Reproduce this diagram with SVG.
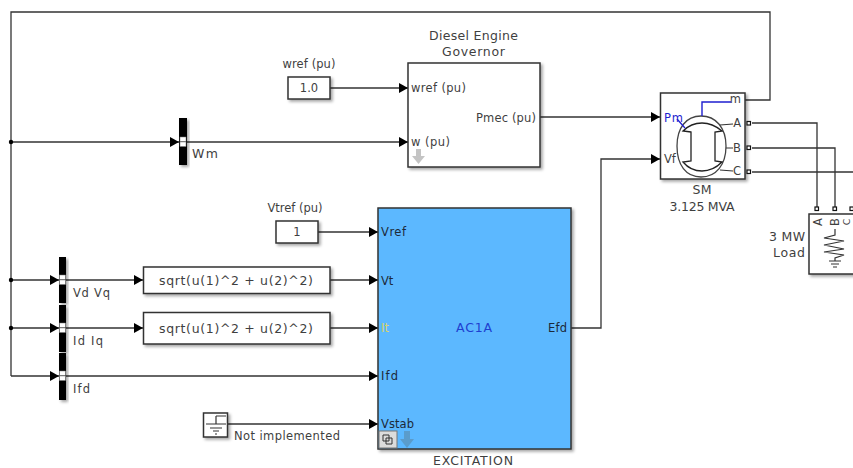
<svg xmlns="http://www.w3.org/2000/svg" width="853" height="468" viewBox="0 0 853 468">
<style>
text{font-family:"DejaVu Sans","Liberation Sans",sans-serif;font-size:11.5px;fill:#3f3f3f}
.l{font-size:12.5px}
.p{fill:#1c2a3a}
.b{fill:#fff;stroke:#333;stroke-width:1.5;filter:url(#s)}
.m{fill:#000;filter:url(#s)}
.w{fill:none;stroke:#333;stroke-width:1.3}
.t{fill:none;stroke:#333;stroke-width:1.3;marker-end:url(#a)}
.g{fill:none;stroke:#333;stroke-width:1.2}
.q{fill:#fff;stroke:#111;stroke-width:1.2}
</style>
<defs>
<filter id="s" x="-20%" y="-20%" width="150%" height="150%"><feDropShadow dx="2" dy="2" stdDeviation="1.5" flood-color="#000" flood-opacity=".35"/></filter>
<marker id="a" markerUnits="userSpaceOnUse" markerWidth="9" markerHeight="10" refX="9" refY="5" orient="auto"><path d="M0 0L9 5L0 10z" fill="#000"/></marker>
<g id="muxmark"><rect x="-3" y="-5" width="6" height="4.500" fill="#fff" stroke="#777" stroke-width=".5"/><rect x="-3" y="0" width="6" height="4.500" fill="#fff" stroke="#777" stroke-width=".5"/></g>
</defs>
<rect width="853" height="468" fill="#fff"/>

<g id="connectors">
<path class="w" d="M745 100H770V12H11V376"/>
<path class="t" d="M11 142H179"/>
<path class="t" d="M187 142H408"/>
<path class="t" d="M330 88H408"/>
<path class="t" d="M540 117H660"/>
<path class="t" d="M571 328H601V159H660"/>
<path class="t" d="M318 232H378"/>
<path class="t" d="M11 280H59"/>
<path class="t" d="M66 280H143"/>
<path class="t" d="M11 328H59"/>
<path class="t" d="M66 328H143"/>
<path class="t" d="M11 376H59"/>
<path class="t" d="M66 376H378"/>
<path class="t" d="M330 280H378"/>
<path class="t" d="M330 328H378"/>
<path class="t" d="M228 424H378"/>
<path class="w" d="M752 123H817V208"/>
<path class="w" d="M752 148H835V208"/>
<path class="w" d="M752 172H853"/>
<circle cx="11" cy="142" r="2.200" fill="#000"/>
<circle cx="11" cy="280" r="2.200" fill="#000"/>
<circle cx="11" cy="328" r="2.200" fill="#000"/>
</g>

<g id="governor">
<rect class="b" x="408" y="63" width="132" height="104"/>
<text class="l" x="473.500" y="40" text-anchor="middle" textLength="89">Diesel Engine</text>
<text class="l" x="473.500" y="56" text-anchor="middle" textLength="63">Governor</text>
<text x="411" y="92" textLength="55">wref (pu)</text>
<text x="411" y="146" textLength="39">w (pu)</text>
<text x="476" y="122" textLength="60">Pmec (pu)</text>
<path d="M416 149h5v7h4l-6.500 8l-6.500-8h4z" fill="#c4c4c4"/>
</g>

<g id="wref">
<rect class="b" x="288" y="77" width="42" height="22"/>
<text x="309" y="92" text-anchor="middle">1.0</text>
<text x="309" y="68" text-anchor="middle" textLength="53">wref (pu)</text>
</g>

<g id="wm-mux">
<rect class="m" x="179" y="118" width="8" height="47"/>
<use href="#muxmark" x="183" y="142"/>
<text class="l" x="192" y="158" textLength="26">Wm</text>
</g>

<g id="sm">
<rect class="b" x="660.500" y="93" width="84.500" height="86"/>
<text x="664" y="122" style="fill:#1f1fd0" textLength="19">Pm</text>
<text x="664" y="163">Vf</text>
<text x="741" y="103" text-anchor="end">m</text>
<text x="741" y="127" text-anchor="end">A</text>
<text x="741" y="152" text-anchor="end">B</text>
<text x="741" y="175" text-anchor="end">C</text>
<path d="M677 146C677 128 686 116 701 116C716 116 726 128 726 146C726 165 716 177 701 177C686 177 677 165 677 146z" fill="none" stroke="#444" stroke-width="1.300"/>
<path d="M691 132L683 131C688 126 694 123 702 123C710 123 716 126 722 131L715 132V161L722 162C716 168 710 171 702 171C694 171 688 168 683 162L691 161z" fill="none" stroke="#222" stroke-width="1.300"/>
<path d="M702 116V102H731" fill="none" stroke="#1f1fd0" stroke-width="1.400"/>
<path d="M677 119L685 128" fill="none" stroke="#1f1fd0" stroke-width="1.300"/>
<path d="M720 125L733 124M726 148H733M720 170L733 171" class="g"/>
<rect class="q" x="747" y="121.500" width="3.500" height="3.500"/>
<rect class="q" x="747" y="146" width="3.500" height="3.500"/>
<rect class="q" x="747" y="170" width="3.500" height="3.500"/>
<text class="l" x="702" y="194" text-anchor="middle" textLength="19">SM</text>
<text class="l" x="702" y="211" text-anchor="middle" textLength="65">3.125 MVA</text>
</g>

<g id="load">
<rect class="b" x="809" y="214" width="60" height="60"/>
<rect class="q" x="815" y="207" width="3.500" height="3.500"/>
<rect class="q" x="833" y="207" width="3.500" height="3.500"/>
<rect class="q" x="850" y="207" width="3.500" height="3.500"/>
<text transform="translate(821.500 222) rotate(-90)" text-anchor="middle">A</text>
<text transform="translate(839 222) rotate(-90)" text-anchor="middle">B</text>
<text transform="translate(850 222) rotate(-90)" text-anchor="middle" style="font-size:9.500px">C</text>
<path class="g" d="M835 229V235L824 238L844 241L824 245L844 249L824 252L844 255L835 258V261M829 261H841M831 264H839M833 267H837"/>
<text class="l" x="805" y="241" text-anchor="end" textLength="36">3 MW</text>
<text class="l" x="805" y="257" text-anchor="end" textLength="32">Load</text>
</g>

<g id="vtref">
<rect class="b" x="276" y="221" width="42" height="22"/>
<text x="297" y="236" text-anchor="middle">1</text>
<text x="295" y="212" text-anchor="middle" textLength="55">Vtref (pu)</text>
</g>

<g id="mux-vd"><rect class="m" x="59" y="257" width="7" height="46"/><use href="#muxmark" x="62.500" y="280"/><text x="73" y="297" textLength="37">Vd Vq</text></g>
<g id="mux-id"><rect class="m" x="59" y="305" width="7" height="47"/><use href="#muxmark" x="62.500" y="328"/><text x="73" y="345" textLength="30">Id Iq</text></g>
<g id="mux-ifd"><rect class="m" x="59" y="353" width="7" height="47"/><use href="#muxmark" x="62.500" y="376"/><text x="73" y="393" textLength="17">Ifd</text></g>

<g id="fcn-v"><rect class="b" x="143.500" y="267" width="186.500" height="26.500"/><text class="l" x="236" y="285" text-anchor="middle" textLength="154">sqrt(u(1)^2 + u(2)^2)</text></g>
<g id="fcn-i"><rect class="b" x="143.500" y="312.500" width="186.500" height="31.500"/><text class="l" x="236" y="333" text-anchor="middle" textLength="154">sqrt(u(1)^2 + u(2)^2)</text></g>

<g id="ground">
<rect class="b" x="203.500" y="413" width="24" height="24"/>
<path class="g" d="M216 416H226M216 416V424M206 424H226M210 428H222M213 431H219M215 434H217"/>
<text x="234" y="440" textLength="106">Not implemented</text>
</g>

<g id="excitation">
<rect x="378" y="208" width="193" height="241" fill="#5cb8ff" stroke="#333" stroke-width="1.500" filter="url(#s)"/>
<text class="p" x="381" y="236" textLength="25">Vref</text>
<text class="p" x="381" y="285">Vt</text>
<text x="381" y="332" style="fill:#d9d36a">It</text>
<text class="p" x="381" y="380" textLength="17">Ifd</text>
<text class="p" x="381" y="428" textLength="33">Vstab</text>
<text class="p" x="567" y="332" text-anchor="end" textLength="19">Efd</text>
<text class="l" x="474" y="332" text-anchor="middle" style="fill:#1f3fd0" textLength="36">AC1A</text>
<text class="l" x="473" y="465" text-anchor="middle" textLength="80">EXCITATION</text>
<rect x="379" y="431" width="18" height="17" fill="#dcdcdc" stroke="#777"/>
<path d="M383 435h6v6h-6zM386 438h6v6h-6z" fill="none" stroke="#333"/>
<path d="M404 431h6v8h4l-7 9l-7-9h4z" fill="#5a9ccc"/>
</g>
</svg>
